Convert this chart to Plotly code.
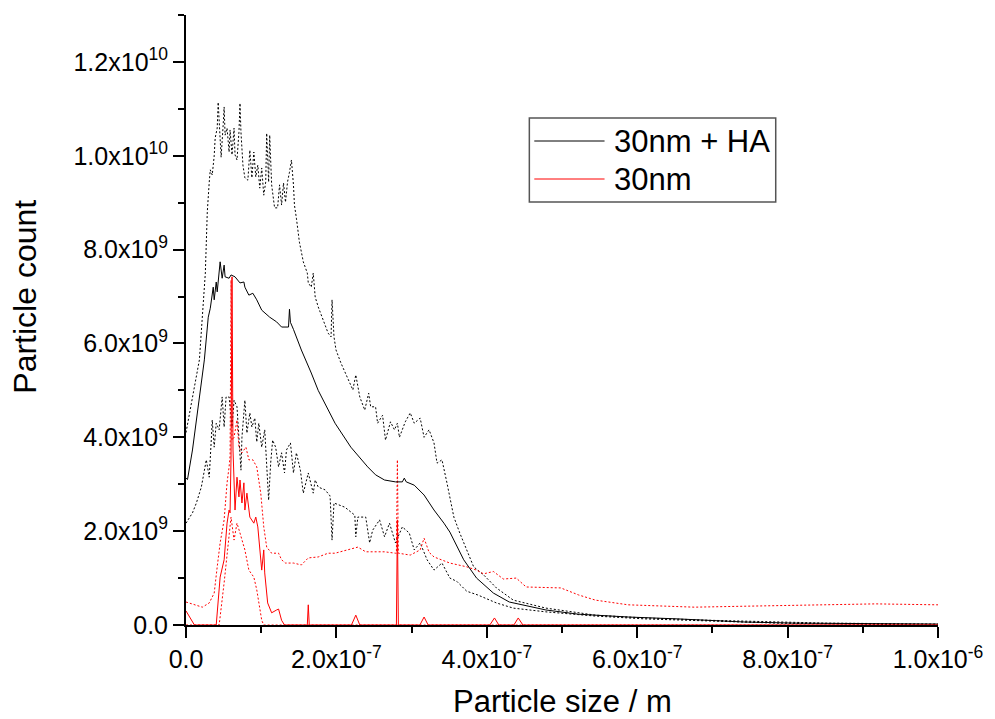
import numpy as np
import plotly.graph_objects as go

# ---- 30nm + HA: mean distribution (sizes in nm, counts in units of 1e9) ----
ha_mean_nm = [0, 2.0, 8.6, 17.8, 24.4, 29.6, 32.3, 36.2, 37.5, 40.2, 41.5, 45.4, 48.1, 50.7,
              52.0, 57.3, 59.9, 65.2, 71.8, 77.0, 78.3, 83.6, 88.9, 94.1, 100.7, 111.3,
              120.5, 127.1, 136.3, 137.6, 138.9, 142.9, 153.4, 166.6, 175.8, 198.2, 219.2,
              241.6, 252.1, 264.0, 278.5, 287.7, 290.3, 292.9, 303.5, 316.6, 329.8, 343.0,
              350.9, 356.2, 369.3, 386.4, 408.8, 429.9, 462.8, 478.6, 522.1, 588.0, 653.8,
              741.9, 807.8, 873.6, 1000.0]
ha_mean_e9 = [3.13, 3.10, 3.73, 4.79, 5.65, 6.56, 6.75, 7.20, 6.93, 7.31, 7.10, 7.74, 7.39, 7.67,
              7.42, 7.39, 7.46, 7.42, 7.29, 7.31, 7.20, 7.03, 7.07, 6.93, 6.71, 6.56,
              6.46, 6.35, 6.35, 6.73, 6.45, 6.30, 5.86, 5.37, 5.00, 4.30, 3.79,
              3.37, 3.20, 3.09, 3.05, 3.05, 3.13, 3.05, 2.98, 2.77, 2.45, 2.17,
              1.98, 1.81, 1.39, 1.00, 0.68, 0.49, 0.38, 0.32, 0.23, 0.17, 0.13,
              0.064, 0.04, 0.03, 0.02]

# ---- 30nm + HA: upper bound ----
ha_hi_nm = [0, 11.2, 17.8, 25.7, 28.3, 30.9, 32.3, 34.9, 37.5, 38.8, 41.5, 42.8, 44.1, 46.7,
            49.4, 50.7, 52.0, 54.6, 57.3, 58.6, 61.2, 63.9, 65.2, 67.8, 70.4, 71.8, 73.1,
            75.7, 78.3, 82.3, 84.9, 87.6, 90.2, 92.8, 95.5, 98.1, 100.7, 103.4, 106.0,
            107.3, 109.9, 111.3, 113.9, 117.8, 121.8, 124.4, 127.1, 129.7, 132.3, 135.0,
            137.6, 140.2, 142.9, 144.2, 146.8, 149.4, 150.8, 156.0, 161.3, 162.6, 166.6,
            169.2, 171.8, 175.8, 182.4, 189.0, 192.9, 194.2, 196.8, 199.5, 206.1, 215.3,
            221.9, 225.8, 231.1, 237.7, 242.9, 245.6, 252.1, 254.8, 261.4, 265.3, 271.9,
            277.2, 281.1, 283.8, 291.6, 298.2, 303.5, 311.4, 316.6, 323.2, 329.8, 333.8,
            340.4, 347.0, 356.2, 364.1, 373.3, 382.5, 395.6, 412.8, 435.2, 478.6, 544.5,
            610.3, 698.5, 785.4, 851.2, 1000.0]
ha_hi_e9 = [4.10, 5.07, 5.65, 7.50, 8.80, 9.44, 9.70, 9.59, 10.00, 10.38, 10.59, 11.14, 10.65, 9.97,
            10.65, 11.04, 10.44, 10.59, 10.08, 10.55, 10.02, 10.59, 10.02, 9.91, 10.50, 11.12, 10.50,
            9.80, 9.53, 9.48, 10.12, 9.53, 10.08, 9.55, 9.80, 9.31, 9.74, 9.16, 9.44,
            10.48, 9.44, 10.44, 9.38, 8.89, 8.89, 9.38, 8.95, 9.42, 9.01, 9.44,
            9.65, 9.91, 9.38, 8.95, 8.67, 8.37, 8.16, 7.74, 7.50, 7.29, 7.20,
            7.50, 6.99, 6.78, 6.50, 6.22, 6.14, 6.93, 6.14, 5.86, 5.58, 5.26,
            5.01, 5.33, 4.86, 4.58, 4.94, 4.65, 4.65, 4.30, 4.47, 3.94, 4.33,
            4.16, 4.30, 4.00, 4.33, 4.52, 4.30, 4.41, 4.00, 4.16, 3.88, 3.45,
            3.52, 3.03, 2.30, 1.96, 1.60, 1.24, 1.07, 0.79, 0.53, 0.36, 0.21,
            0.15, 0.10, 0.06, 0.04, 0.02]

# ---- 30nm + HA: lower bound ----
ha_lo_nm = [0, 8.6, 13.8, 20.4, 27.0, 30.9, 33.6, 34.9, 37.5, 40.2, 44.1, 48.1, 50.7, 53.3,
            57.3, 61.2, 63.9, 67.8, 73.1, 74.4, 78.3, 81.0, 84.9, 87.6, 91.5, 94.1, 96.8,
            100.7, 104.7, 107.3, 109.9, 112.6, 115.2, 119.2, 123.1, 127.1, 131.0, 133.6,
            138.9, 142.9, 146.8, 152.1, 156.0, 162.6, 169.2, 171.8, 175.8, 185.0, 191.6,
            194.2, 196.8, 211.3, 224.5, 225.8, 228.5, 239.0, 244.2, 248.2, 257.4, 264.0,
            270.6, 278.5, 287.7, 296.9, 303.5, 311.4, 320.6, 329.8, 340.4, 350.9, 360.1,
            373.3, 388.0, 412.8, 435.2, 478.6, 544.5, 610.3, 698.5, 785.4, 873.6, 1000.0]
ha_lo_e9 = [2.17, 2.39, 2.60, 2.94, 3.52, 3.15, 3.94, 4.37, 3.79, 4.30, 4.16, 4.86, 4.22, 4.86,
            4.86, 4.22, 4.79, 4.65, 3.30, 4.00, 4.79, 4.09, 4.52, 4.22, 4.41, 3.90, 4.30,
            3.79, 4.16, 3.37, 2.66, 3.45, 3.94, 3.79, 3.37, 3.67, 3.24, 3.73,
            3.88, 3.24, 3.67, 3.30, 2.81, 3.24, 2.81, 3.09, 2.94, 2.88, 2.75,
            1.81, 2.60, 2.51, 2.34, 1.88, 2.30, 2.30, 1.75, 2.02, 2.24, 1.88,
            2.17, 1.75, 2.09, 1.96, 1.60, 1.75, 1.39, 1.17, 1.32, 1.00, 0.93,
            0.72, 0.64, 0.47, 0.36, 0.28, 0.19, 0.13, 0.085, 0.04, 0.02, 0.0]

# ---- 30nm: mean distribution ----
nm_mean_nm = [0, 8.0, 11.2, 40.2, 45.4, 50.7, 54.6, 57.3, 58.6, 59.9, 61.2, 62.5, 65.2, 67.8,
              70.4, 71.8, 74.4, 77.0, 78.3, 81.0, 84.9, 90.2, 92.8, 95.5, 98.1, 100.7, 103.4,
              104.7, 108.6, 113.9, 120.5, 123.1, 127.1, 131.0, 161.3, 162.6, 163.9, 220.0,
              225.8, 231.1, 279.8, 281.1, 282.4, 311.0, 316.6, 322.0, 404.0, 410.2, 416.0,
              436.0, 441.8, 448.0, 1000.0]
nm_mean_e9 = [0.30, 0.10, 0.0, 0.0, 1.02, 1.39, 2.17, 2.45, 2.39, 3.58, 7.42, 3.73, 2.45, 3.15,
              2.73, 3.09, 2.60, 3.03, 2.45, 2.81, 2.30, 2.17, 2.30, 2.09, 1.53, 1.17, 1.60,
              1.11, 0.47, 0.26, 0.32, 0.34, 0.10, 0.0, 0.0, 0.43, 0.0, 0.0,
              0.21, 0.0, 0.0, 2.24, 0.0, 0.0, 0.17, 0.0, 0.0, 0.15, 0.0,
              0.0, 0.15, 0.0, 0.0]

# ---- 30nm: upper bound ----
nm_hi_nm = [0, 12.5, 21.7, 30.9, 37.5, 41.5, 45.4, 50.7, 54.6, 57.3, 58.6, 59.9, 61.2, 63.9,
            67.8, 70.4, 74.4, 79.7, 83.6, 88.9, 94.1, 99.4, 103.4, 107.3, 113.9, 123.1,
            127.1, 132.3, 142.9, 153.4, 162.6, 175.8, 189.0, 198.2, 224.5, 228.5, 239.0,
            264.0, 278.5, 279.8, 281.1, 282.4, 298.2, 311.4, 316.6, 323.2, 329.8, 350.9,
            373.3, 386.4, 395.6, 408.8, 422.0, 439.2, 452.3, 478.6, 498.4, 522.1, 544.5,
            588.0, 676.1, 741.9, 830.2, 917.1, 1000.0]
nm_hi_e9 = [0.49, 0.43, 0.38, 0.47, 0.68, 1.24, 1.75, 2.24, 3.03, 3.37, 3.60, 7.35, 3.94, 4.00,
            4.37, 3.79, 3.67, 3.79, 3.52, 3.52, 3.37, 2.81, 2.09, 1.66, 1.53, 1.53,
            1.39, 1.32, 1.32, 1.28, 1.43, 1.45, 1.53, 1.53, 1.64, 1.66, 1.56,
            1.56, 1.53, 1.53, 3.52, 1.53, 1.49, 1.60, 1.85, 1.55, 1.45, 1.32,
            1.24, 1.17, 1.09, 1.14, 0.98, 1.00, 0.81, 0.79, 0.79, 0.64, 0.53,
            0.43, 0.38, 0.40, 0.43, 0.45, 0.43]

# ---- 30nm: lower bound ----
nm_lo_nm = [0, 44.1, 50.7, 57.3, 59.9, 63.9, 67.8, 71.8, 78.3, 83.6, 90.2, 94.1, 98.1, 100.7,
            103.4, 1000.0]
nm_lo_e9 = [0.0, 0.0, 0.90, 1.96, 2.30, 1.81, 2.17, 1.96, 1.60, 1.17, 1.02, 0.75, 0.32, 0.10,
            0.0, 0.0]

# ---- axis ticks ----
x_tick_vals = [0, 2e-7, 4e-7, 6e-7, 8e-7, 1e-6]
x_tick_text = ["0.0", "2.0x10<sup>-7</sup>", "4.0x10<sup>-7</sup>", "6.0x10<sup>-7</sup>",
               "8.0x10<sup>-7</sup>", "1.0x10<sup>-6</sup>"]
y_tick_vals = [0, 2e9, 4e9, 6e9, 8e9, 1e10, 1.2e10]
y_tick_text = ["0.0", "2.0x10<sup>9</sup>", "4.0x10<sup>9</sup>", "6.0x10<sup>9</sup>",
               "8.0x10<sup>9</sup>", "1.0x10<sup>10</sup>", "1.2x10<sup>10</sup>"]

series_names = ["30nm + HA", "30nm"]
series_colors = ["#000000", "#ff0000"]


def to_m(v):
    return np.asarray(v) * 1e-9


def to_count(v):
    return np.asarray(v) * 1e9


FONT = "Liberation Sans, Arial, sans-serif"
DOT = "2px,2px"

W, H = 995, 719
ML, MR, MT, MB = 186, 49, 15, 94


def px_x(px):
    """Figure pixel column -> paper x."""
    return (px - ML) / (W - ML - MR)


def px_y(py):
    """Figure pixel row -> paper y."""
    return (H - MB - py) / (H - MT - MB)


fig = go.Figure()

# dotted bounds first, then the means on top
bounds = [
    (ha_hi_nm, ha_hi_e9, series_colors[0]),
    (ha_lo_nm, ha_lo_e9, series_colors[0]),
    (nm_hi_nm, nm_hi_e9, series_colors[1]),
    (nm_lo_nm, nm_lo_e9, series_colors[1]),
]
for xs, ys, col in bounds:
    fig.add_trace(go.Scatter(x=to_m(xs), y=to_count(ys), mode="lines",
                             line=dict(color=col, width=1, dash=DOT),
                             showlegend=False, hoverinfo="skip"))

means = [
    (ha_mean_nm, ha_mean_e9, series_names[0], series_colors[0]),
    (nm_mean_nm, nm_mean_e9, series_names[1], series_colors[1]),
]
for xs, ys, name, col in means:
    fig.add_trace(go.Scatter(x=to_m(xs), y=to_count(ys), mode="lines", name=name,
                             line=dict(color=col, width=1), showlegend=False))

axis_common = dict(
    showline=True, linecolor="black", linewidth=2, mirror=False,
    showgrid=False, zeroline=False,
    ticks="outside", ticklen=11, tickwidth=2, tickcolor="black",
    tickfont=dict(family=FONT, size=25, color="black"),
)

fig.update_xaxes(range=[0, 1e-6], tickmode="array", tickvals=x_tick_vals, ticktext=x_tick_text,
                 minor=dict(ticks="outside", ticklen=6, tickwidth=2, tickcolor="black",
                            tick0=0, dtick=1e-7),
                 **axis_common)
fig.update_yaxes(range=[0, 1.3e10], tickmode="array", tickvals=y_tick_vals, ticktext=y_tick_text,
                 minor=dict(ticks="outside", ticklen=6, tickwidth=2, tickcolor="black",
                            tick0=0, dtick=1e9),
                 **axis_common)

# legend box drawn in paper coordinates
shapes = [dict(type="rect", xref="paper", yref="paper",
               x0=px_x(533), x1=px_x(782), y0=px_y(202), y1=px_y(118),
               line=dict(color="#555555", width=1.5), fillcolor="white", layer="above")]
annotations = []
for i, (name, col) in enumerate(zip(series_names, series_colors)):
    row = 141 + i * 38
    shapes.append(dict(type="line", xref="paper", yref="paper",
                       x0=px_x(538), x1=px_x(609), y0=px_y(row), y1=px_y(row),
                       line=dict(color=col, width=1), layer="above"))
    annotations.append(dict(text=name, xref="paper", yref="paper", x=px_x(617), y=px_y(row),
                            xanchor="left", yanchor="middle", showarrow=False,
                            font=dict(family=FONT, size=31, color="black")))

# axis titles
annotations.append(dict(text="Particle size / m", xref="paper", yref="paper",
                        x=px_x(566), y=px_y(701),
                        xanchor="center", yanchor="middle", showarrow=False,
                        font=dict(family=FONT, size=31, color="black")))
annotations.append(dict(text="Particle count", xref="paper", yref="paper",
                        x=px_x(23), y=px_y(297),
                        xanchor="center", yanchor="middle", textangle=-90, showarrow=False,
                        font=dict(family=FONT, size=32, color="black")))

fig.update_layout(
    width=W, height=H,
    margin=dict(l=ML, r=MR, t=MT, b=MB),
    paper_bgcolor="white", plot_bgcolor="white",
    shapes=shapes, annotations=annotations,
    showlegend=False,
    font=dict(family=FONT, color="black"),
)

fig.write_html("out.html")
